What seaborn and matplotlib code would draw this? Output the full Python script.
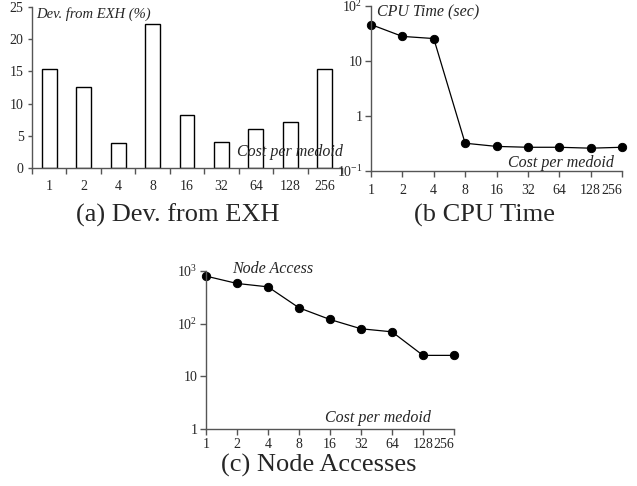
import numpy as np
import pandas as pd
import matplotlib
matplotlib.use('Agg')
import matplotlib.pyplot as plt
import seaborn as sns
from matplotlib.ticker import FixedLocator, FixedFormatter, NullLocator, NullFormatter

# ---- data ----
categories = ['1', '2', '4', '8', '16', '32', '64', '128', '256']
dev_from_exh = [15.4, 12.6, 3.9, 22.4, 8.2, 4.1, 6.0, 7.2, 15.3]
cpu_time = [46, 28, 25.6, 0.32, 0.28, 0.27, 0.27, 0.26, 0.27]
node_access = [800, 580, 500, 200, 120, 80, 70, 25, 25]
dev_yticks = [0, 5, 10, 15, 20, 25]
cpu_yticks = [0.1, 1, 10, 100]
cpu_yticklabels = [r'$10^{-1}$', '1', '10', r'$10^{2}$']
node_yticks = [1, 10, 100, 1000]
node_yticklabels = ['1', '10', r'$10^{2}$', r'$10^{3}$']

sns.set_style('ticks')
plt.rcParams['font.family'] = ['Liberation Serif', 'DejaVu Serif']
plt.rcParams['mathtext.fontset'] = 'custom'
plt.rcParams['mathtext.rm'] = 'Liberation Serif'
plt.rcParams['mathtext.it'] = 'Liberation Serif:italic'

W, H = 637, 486
fig = plt.figure(figsize=(W / 100, H / 100), dpi=100)
fig.patch.set_facecolor('white')


def rect(l, t, r, b):
    return [l / W, 1 - b / H, (r - l) / W, (b - t) / H]


ax1 = fig.add_axes(rect(32, 7, 342, 168))
ax2 = fig.add_axes(rect(371, 6, 622, 171))
ax3 = fig.add_axes(rect(206, 271, 454, 429))

SPC = '#555555'
TFS = 10

# (a) bar chart
df1 = pd.DataFrame({'cost': categories, 'dev': dev_from_exh})
sns.barplot(data=df1, x='cost', y='dev', order=categories, color='white',
            saturation=1, edgecolor='black', linewidth=1.0, width=0.43, ax=ax1)
ax1.set_xlim(-0.5, 8.5)
ax1.set_ylim(0, 25)
ax1.set_yticks(dev_yticks)
ax1.xaxis.set_major_locator(FixedLocator(np.arange(-0.5, 8.6, 1)))
ax1.xaxis.set_major_formatter(NullFormatter())
ax1.xaxis.set_minor_locator(FixedLocator(range(len(categories))))
ax1.xaxis.set_minor_formatter(FixedFormatter(categories))
ax1.tick_params(axis='x', which='minor', length=0, pad=9, labelsize=TFS)
ax1.tick_params(axis='x', which='major', length=4, width=1, color=SPC)
ax1.tick_params(axis='y', length=3, width=1, color=SPC, pad=3, labelsize=TFS)

# (b) CPU time
df2 = pd.DataFrame({'cost': categories, 'cpu': cpu_time})
sns.pointplot(data=df2, x='cost', y='cpu', order=categories, color='black',
              markers='o', markersize=6, linewidth=0.9, errorbar=None, ax=ax2)
ax2.set_yscale('log')
ax2.set_ylim(0.1, 100)
ax2.set_xlim(0, len(categories) - 1)
ax2.set_yticks(cpu_yticks)
ax2.set_yticklabels(cpu_yticklabels)

# (c) node accesses
df3 = pd.DataFrame({'cost': categories, 'node': node_access})
sns.pointplot(data=df3, x='cost', y='node', order=categories, color='black',
              markers='o', markersize=6, linewidth=0.9, errorbar=None, ax=ax3)
ax3.set_yscale('log')
ax3.set_ylim(1, 1000)
ax3.set_xlim(0, len(categories) - 1)
ax3.set_yticks(node_yticks)
ax3.set_yticklabels(node_yticklabels)

for ax, xpad in ((ax2, 5), (ax3, 2.5)):
    ax.yaxis.set_minor_locator(NullLocator())
    ax.set_xticks(range(len(categories)))
    ax.set_xticklabels(categories)
    ax.tick_params(axis='x', length=4, width=1, color=SPC, pad=xpad, labelsize=TFS)
    ax.tick_params(axis='y', length=4, width=1, color=SPC, pad=2, labelsize=TFS)
    ax.xaxis.get_major_ticks()[-1].label1.set_horizontalalignment('right')
    for ln in ax.lines:
        ln.set_clip_on(False)
    for c in ax.collections:
        c.set_clip_on(False)

for ax in (ax1, ax2, ax3):
    sns.despine(ax=ax)
    ax.set_xlabel('')
    ax.set_ylabel('')
    ax.set_facecolor('white')
    for s in ('left', 'bottom'):
        ax.spines[s].set_color(SPC)
        ax.spines[s].set_linewidth(1.0)

# in-plot labels
IT = dict(style='italic', va='center', ha='left')
fig.text(36 / W, 1 - 14 / H, 'Dev. from EXH (%)', fontsize=10.5, **IT)
fig.text(237 / W, 1 - 152 / H, 'Cost per medoid', fontsize=11.5, **IT)
fig.text(377 / W, 1 - 12 / H, 'CPU Time (sec)', fontsize=11.5, **IT)
fig.text(508 / W, 1 - 163 / H, 'Cost per medoid', fontsize=11.5, **IT)
fig.text(232 / W, 1 - 269 / H, 'Node Access', fontsize=11.5, **IT)
fig.text(325 / W, 1 - 418 / H, 'Cost per medoid', fontsize=11.5, **IT)

# captions
CAP = dict(fontsize=19, ha='center', va='center')
fig.text(178 / W, 1 - 215 / H, '(a) Dev. from EXH', **CAP)
fig.text(485 / W, 1 - 215 / H, '(b CPU Time', **CAP)
fig.text(319 / W, 1 - 465 / H, '(c) Node Accesses', **CAP)

fig.savefig('out.png', dpi=100, facecolor='white')
